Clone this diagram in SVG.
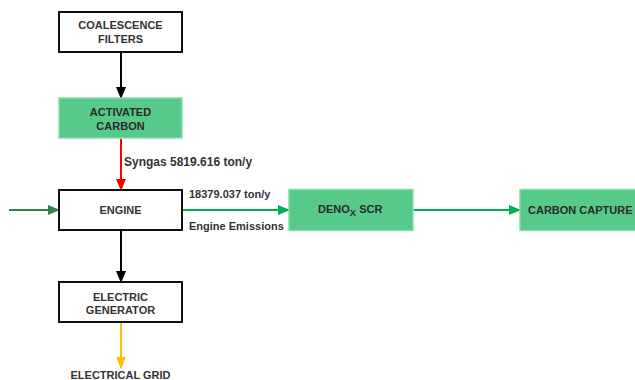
<svg xmlns="http://www.w3.org/2000/svg" width="635" height="380" viewBox="0 0 635 380">
<style>
text{font-family:"Liberation Sans",Arial,sans-serif;font-weight:bold;font-size:11px;fill:#333}
.n{text-anchor:middle}
.wb{fill:#fff;stroke:#111;stroke-width:2}
.gb{fill:#57c98a;stroke:#86dcab;stroke-width:1.5}
.gt{fill:#2a2a2a}
.c{fill:none;stroke-width:2}
</style>
<defs>
<marker id="ak" markerWidth="12" markerHeight="10" refX="11" refY="5" orient="auto" markerUnits="userSpaceOnUse"><path d="M0,0L12,5L0,10z" fill="#000"/></marker>
<marker id="ar" markerWidth="12" markerHeight="10" refX="11" refY="5" orient="auto" markerUnits="userSpaceOnUse"><path d="M0,0L12,5L0,10z" fill="#f00"/></marker>
<marker id="ag" markerWidth="12" markerHeight="10" refX="11" refY="5" orient="auto" markerUnits="userSpaceOnUse"><path d="M0,0L12,5L0,10z" fill="#00b050"/></marker>
<marker id="ad" markerWidth="12" markerHeight="10" refX="11" refY="5" orient="auto" markerUnits="userSpaceOnUse"><path d="M0,0L12,5L0,10z" fill="#3a7d4f"/></marker>
<marker id="ay" markerWidth="12" markerHeight="10" refX="11" refY="5" orient="auto" markerUnits="userSpaceOnUse"><path d="M0,0L12,5L0,10z" fill="#ffc000"/></marker>
</defs>
<g id="connectors">
<path class="c" d="M121,53V98" stroke="#000" marker-end="url(#ak)"/>
<path class="c" d="M121,139V190" stroke="#f00" marker-end="url(#ar)"/>
<path class="c" d="M9,210H59" stroke="#3a7d4f" marker-end="url(#ad)"/>
<path class="c" d="M182,210H289" stroke="#00b050" marker-end="url(#ag)"/>
<path class="c" d="M413,210H520" stroke="#00b050" marker-end="url(#ag)"/>
<path class="c" d="M121,231V282" stroke="#000" marker-end="url(#ak)"/>
<path class="c" d="M121,323V368" stroke="#ffc000" marker-end="url(#ay)"/>
<text x="124" y="166" style="font-size:12px">Syngas 5819.616 ton/y</text>
<text x="189" y="198">18379.037 ton/y</text>
<text x="189" y="230">Engine Emissions</text>
</g>
<g id="coalescence">
<rect class="wb" x="59" y="12" width="123" height="40"/>
<text class="n" x="120.5" y="29">COALESCENCE</text>
<text class="n" x="120.5" y="43">FILTERS</text>
</g>
<g id="activated-carbon">
<rect class="gb" x="59" y="98" width="123" height="40"/>
<text class="n gt" x="120.5" y="116">ACTIVATED</text>
<text class="n gt" x="120.5" y="130">CARBON</text>
</g>
<g id="engine">
<rect class="wb" x="59" y="190" width="123" height="40"/>
<text class="n" x="120.5" y="214">ENGINE</text>
</g>
<g id="denox">
<rect class="gb" x="289" y="189.5" width="124" height="41"/>
<text x="318" y="212.5" class="gt">DENO<tspan dy="3.5" style="font-size:9.5px">X</tspan><tspan dy="-3.5"> SCR</tspan></text>
</g>
<g id="carbon-capture">
<rect class="gb" x="520" y="189.5" width="124" height="41"/>
<text x="528" y="214" class="gt">CARBON CAPTURE</text>
</g>
<g id="generator">
<rect class="wb" x="59" y="282" width="123" height="40"/>
<text class="n" x="120.5" y="300.5">ELECTRIC</text>
<text class="n" x="120.5" y="314">GENERATOR</text>
</g>
<g id="grid">
<text class="n" x="120.5" y="379">ELECTRICAL GRID</text>
</g>
</svg>
